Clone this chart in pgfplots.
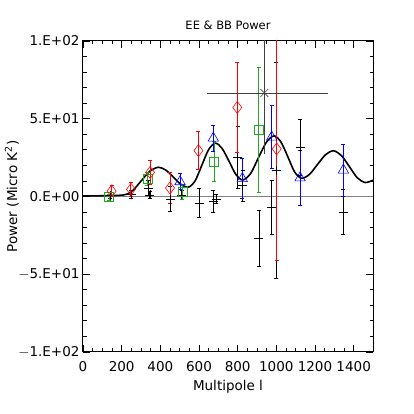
\documentclass[border=0pt]{standalone}
\usepackage{fontspec}
\setmainfont{DejaVu Sans}
\usepackage{pgfplots}
\usepackage{pgfplotstable}
\pgfplotsset{compat=1.18}

\definecolor{idlred}{RGB}{255,0,0}
\definecolor{idlgreen}{RGB}{30,170,30}
\definecolor{idlblue}{RGB}{0,0,255}

% theory EE curve
\pgfplotstableread{
l v
0 0.3
100 0.5
210 1.0
255 3.6
300 9.9
345 16.2
390 18.8
429 16.9
468 12.4
506 7.9
545 6.0
580 10.1
615 20.2
650 30.2
685 34.3
720 30.8
756 22.5
791 14.1
826 10.6
867 14.8
907 24.8
948 34.8
988 39.0
1024 35.0
1060 25.4
1095 15.7
1131 11.7
1172 14.3
1213 20.6
1254 26.8
1295 29.4
1336 26.4
1378 19.2
1419 12.0
1460 9.0
1500 10.5
}\theory

\pgfplotstableread{
l v e
148 3.5 3.4
248 4.6 4.4
347 15.5 7.7
450 5.5 10
597 29.5 12.3
798 57.3 29
1002 30.6 72
}\reddata

\pgfplotstableread{
l v e
136 -0.5 2
333 11.3 4.4
514 3.0 4.9
679 22.5 13
910 42.9 40
}\greendata

\pgfplotstableread{
l v e
502 9.5 5.2
674 37.5 8.3
824 11.5 13
976 38.2 20.4
1123 12 17.5
1347 17 16.7
}\bluedata

\pgfplotstableread{
l v e
140 0.8 2
250 1.5 2.5
338 5.3 4.8
345 1 2.5
450 -1.7 8
510 1 3
600 -4 9.3
674 -3 7
690 -1.5 3
800 25 20
826 7 10
910 -26.6 18
976 -7 17.2
1000 16.7 69.5
1123 31.7 18
1347 -9.8 14.6
}\blackdata

\pgfplotstableread{
l v xp xm e
938 66.6 331 298 39.2
}\bbdata

\begin{document}
\begin{tikzpicture}
\begin{axis}[
    name=ax,
    scale only axis,
    width=290pt, height=311pt,
    xmin=0, xmax=1500,
    ymin=-100, ymax=100,
    axis line style={line width=1pt},
    xtick={0,200,...,1400},
    xticklabels={0,200,400,600,800,1000,1200,1400},
    minor x tick num=3,
    ytick={-100,-50,0,50,100},
    yticklabels={$-$1.E+02,$-$5.E+01,0.E+00,5.E+01,1.E+02},
    minor y tick num=4,
    major tick length=7pt,
    minor tick length=3.5pt,
    tick style={black, line width=0.8pt},
    tick label style={font=\fontsize{13.5}{14}\selectfont},
    xticklabel style={anchor=base, yshift=-19.5pt},
    title={EE \& BB Power},
    title style={font=\fontsize{11.5}{12}\selectfont, at={(0.5,1)}, anchor=base, yshift=5pt, inner sep=0pt},
    xlabel={Multipole l},
    xlabel style={font=\fontsize{13.5}{14}\selectfont, at={(axis description cs:0.5,0)}, anchor=base, yshift=-38pt, inner sep=0pt},
    ylabel={Power (Micro K\textsuperscript{2})},
    ylabel style={font=\fontsize{13.5}{14}\selectfont, at={(axis description cs:0,0.5)}, anchor=south, yshift=64pt, inner sep=0pt},
    /pgf/number format/assume math mode=true,
    clip=true,
]
\addplot[gray, line width=0.6pt] coordinates {(0,0) (1500,0)};
\addplot[black, line width=1.6pt, smooth, tension=0.5] table[x=l, y=v] {\theory};

\addplot[only marks, black, mark=+, mark size=4.5pt,
    error bars/.cd, y dir=both, y explicit,
    error bar style={line width=0.7pt},
    error mark options={rotate=90, mark size=2pt, line width=0.7pt}]
    table[x=l, y=v, y error=e] {\blackdata};

\addplot[only marks, idlgreen, mark=square, mark size=4.5pt, mark options={line width=0.6pt},
    error bars/.cd, y dir=both, y explicit,
    error bar style={line width=0.9pt},
    error mark options={rotate=90, mark size=2pt, line width=0.8pt}]
    table[x=l, y=v, y error=e] {\greendata};

\addplot[only marks, idlblue, mark=triangle, mark size=6pt, mark options={line width=0.6pt},
    error bars/.cd, y dir=both, y explicit,
    error bar style={line width=0.9pt},
    error mark options={rotate=90, mark size=2pt, line width=0.8pt}]
    table[x=l, y=v, y error=e] {\bluedata};

\addplot[only marks, idlred, mark=diamond, mark size=6pt, mark options={line width=0.6pt},
    error bars/.cd, y dir=both, y explicit,
    error bar style={line width=0.9pt},
    error mark options={rotate=90, mark size=2pt, line width=0.8pt}]
    table[x=l, y=v, y error=e] {\reddata};

\addplot[only marks, black!75, mark=x, mark size=5.5pt, mark options={line width=0.6pt},
    error bars/.cd, x dir=both, x explicit, y dir=both, y explicit,
    error bar style={line width=0.6pt},
    error mark=none]
    table[x=l, y=v, x error plus=xp, x error minus=xm, y error=e] {\bbdata};
\end{axis}
\pgfresetboundingbox
\path[use as bounding box] ([shift={(-83pt,-62pt)}]ax.south west) rectangle ([shift={(41pt,41pt)}]ax.north east);
\end{tikzpicture}
\end{document}
